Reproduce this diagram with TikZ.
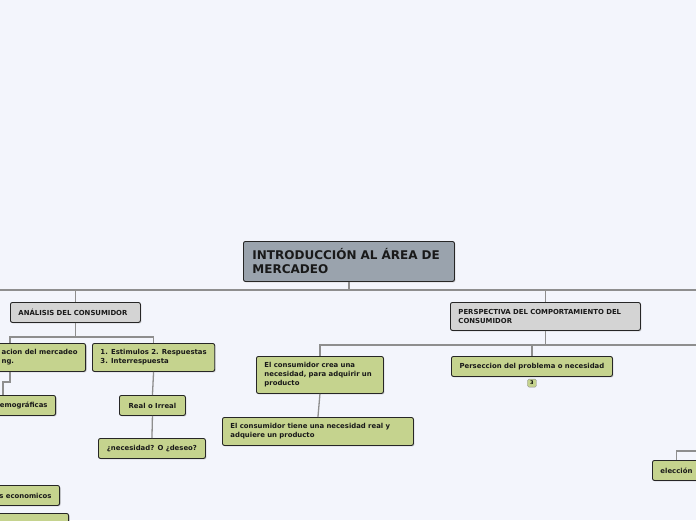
\documentclass[tikz,border=0pt]{standalone}
\usepackage{fontspec}
\setmainfont{DejaVu Sans}
\usetikzlibrary{shadows,positioning}
\definecolor{bgc}{HTML}{F3F5FC}
\definecolor{leaf}{HTML}{C5D38E}
\definecolor{rootc}{HTML}{9AA3AD}
\definecolor{grayc}{HTML}{D4D4D4}
\definecolor{linkc}{HTML}{8E8E8E}
\newcommand\nohyph{\hyphenpenalty=10000\relax\exhyphenpenalty=10000\relax}

\begin{document}
\begin{tikzpicture}[x=1pt,y=-1pt,
box/.style={draw=black!85,rounded corners=2pt,line width=0.9pt,anchor=north west,align=left,inner xsep=8pt,inner ysep=1pt,font=\fontsize{6.9}{9}\selectfont\bfseries\nohyph,text=black!90,fill=leaf,drop shadow={shadow xshift=1pt,shadow yshift=-1pt,opacity=0.35}},
one/.style={box,minimum height=20pt},
two/.style={box,minimum height=28pt},
three/.style={box,minimum height=37pt},
rootbox/.style={box,fill=rootc,inner xsep=9pt,minimum height=40pt,font=\fontsize{12}{14}\selectfont\bfseries\nohyph},
badge/.style={draw=linkc,fill=leaf,rounded corners=1.5pt,inner sep=0pt,minimum width=9pt,minimum height=8pt,font=\fontsize{5}{5}\selectfont\bfseries},
link/.style={draw=linkc,line width=1.3pt}]
\useasboundingbox (0,0) rectangle (696,520);
\fill[bgc] (0,0) rectangle (696,520);
\clip (0,0) rectangle (696,520);
\node[rootbox,text width=193pt](root) at (243,241){INTRODUCCIÓN AL ÁREA DE\\MERCADEO};
\node[one,fill=grayc,text width=114pt](ana) at (10,302){ANÁLISIS DEL CONSUMIDOR};
\node[two,fill=grayc,text width=174pt](per) at (450,302){PERSPECTIVA DEL COMPORTAMIENTO DEL\\CONSUMIDOR};
\node[two,anchor=north east](seg) at (86,343){acion del mercadeo\\ng.};
\node[two,minimum width=121pt](est) at (92,343){1. Estimulos 2. Respuestas\\3. Interrespuesta};
\node[one,anchor=north east](emo) at (56,395){emográficas};
\node[one,minimum width=66pt](real) at (119,395){Real o Irreal};
\node[one,minimum width=107pt](nec) at (98,438){¿necesidad? O ¿deseo?};
\node[one,anchor=north east](eco) at (60,485){s economicos};
\node[one,anchor=north east,minimum width=86pt](eco2) at (69,513){};
\node[three,text width=111pt](crea) at (256,356){El consumidor crea una\\necesidad, para adquirir un\\producto};
\node[two,text width=175pt](tiene) at (222,417){El consumidor tiene una necesidad real y\\adquiere un producto};
\node[one,minimum width=161pt](pers) at (451,356){Perseccion del problema o necesidad};
\node[badge,below=2pt of pers](cnt){3};
\node[one,minimum width=48pt](elec) at (652,460){elección};
\coordinate(farL) at (-40,302);\coordinate(farR) at (740,302);
\coordinate(perR) at (720,356);\coordinate(elecP) at (720,451);
\draw[link](root.south)--++(0,8)-|(ana.north);\draw[link](root.south)--++(0,8)-|(per.north);
\draw[link](root.south)--++(0,8)-|(farL);\draw[link](root.south)--++(0,8)-|(farR);
\draw[link](ana.south)--++(0,14)-|([xshift=-76pt]seg.north east);\draw[link](ana.south)--++(0,14)-|(est.north);
\draw[link]([xshift=-76pt]seg.south east)--++(0,10)-|([xshift=-53pt]emo.north east);
\draw[link](est.south)--(real.north);\draw[link](real.south)--(nec.north);
\draw[link](per.south)--++(0,14)-|(crea.north);\draw[link](per.south)--++(0,14)-|(pers.north);
\draw[link](per.south)--++(0,14)-|(perR);
\draw[link](crea.south)--(tiene.north);
\draw[link](elec.north)|-(elecP);
\end{tikzpicture}
\end{document}
